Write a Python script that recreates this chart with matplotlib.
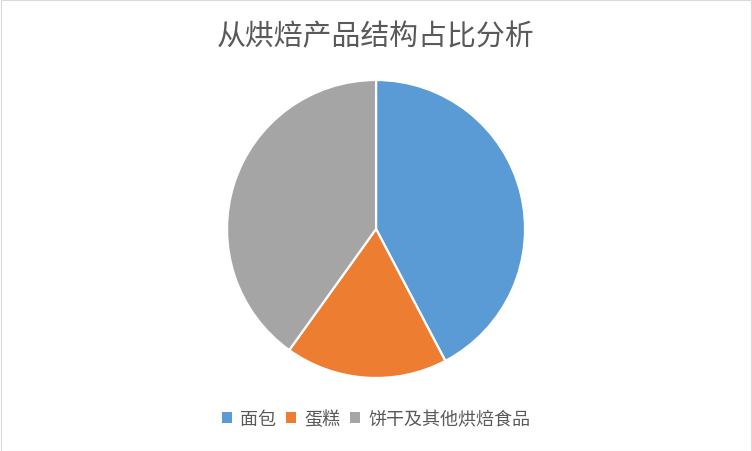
import matplotlib.pyplot as plt
from matplotlib.patches import Rectangle

plt.rcParams['font.family'] = ['Noto Sans CJK SC', 'DejaVu Sans']

# Data
labels = ['面包', '蛋糕', '饼干及其他烘焙食品']
shares = [42.3, 17.6, 40.1]
colors = ['#5B9BD5', '#ED7D31', '#A5A5A5']

fig = plt.figure(figsize=(7.52, 4.52), dpi=100)
fig.patches.append(Rectangle((0.5 / 752, 0.5 / 452), 1 - 1.5 / 752, 1 - 1.5 / 452,
                             transform=fig.transFigure, fill=False,
                             edgecolor='#D9D9D9', linewidth=0.8))

ax = fig.add_axes([0.3019, 0.1615, 0.3963, 0.6593])
wedges, _ = ax.pie(shares, colors=colors, startangle=90, counterclock=False,
                   wedgeprops=dict(edgecolor='white', linewidth=1.6))
ax.set_xlim(-1.0, 1.0)
ax.set_ylim(-1.0, 1.0)
ax.set_aspect('equal')
ax.axis('off')

fig.text(0.5, 0.918, '从烘焙产品结构占比分析', ha='center', va='center',
         fontsize=20.8, color='#595959')

leg = fig.legend(wedges, labels, loc='center', bbox_to_anchor=(0.5, 0.071),
                 ncol=3, frameon=False, fontsize=13, handlelength=0.55,
                 handleheight=0.55, handletextpad=0.45, columnspacing=0.55,
                 labelcolor='#595959')
for h in leg.legend_handles:
    h.set_edgecolor('none')

fig.savefig('out.png', dpi=100)
